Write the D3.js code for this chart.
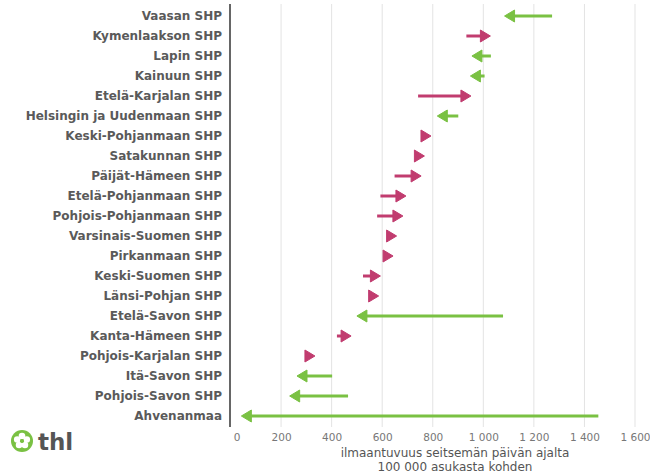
<!DOCTYPE html>
<html>
<head>
<meta charset="utf-8">
<script src="https://cdn.jsdelivr.net/npm/d3@7"></script>
<style>
  body { margin: 0; background: #fff; }
  svg { display: block; font-family: "DejaVu Sans", sans-serif; }
</style>
</head>
<body>
<svg width="650" height="474"></svg>
<script>
//regions, top to bottom
const regions = ["Vaasan SHP", "Kymenlaakson SHP", "Lapin SHP", "Kainuun SHP", "Etelä-Karjalan SHP",
  "Helsingin ja Uudenmaan SHP", "Keski-Pohjanmaan SHP", "Satakunnan SHP", "Päijät-Hämeen SHP",
  "Etelä-Pohjanmaan SHP", "Pohjois-Pohjanmaan SHP", "Varsinais-Suomen SHP", "Pirkanmaan SHP",
  "Keski-Suomen SHP", "Länsi-Pohjan SHP", "Etelä-Savon SHP", "Kanta-Hämeen SHP",
  "Pohjois-Karjalan SHP", "Itä-Savon SHP", "Pohjois-Savon SHP", "Ahvenanmaa"];

//previous week incidence
const prevWeek = [1272, 933, 1030, 1005, 742, 901, 765, 742, 649, 593, 580, 632, 618,
  524, 560, 1078, 421, 308, 402, 465, 1455];

//current week incidence (arrow tip)
const currWeek = [1084, 1028, 955, 949, 951, 818, 793, 767, 754, 694, 682, 657, 643,
  593, 586, 500, 477, 334, 263, 234, 43];

const xTicks = [0, 200, 400, 600, 800, 1000, 1200, 1400, 1600];

const up = "#c13c6f";
const down = "#7ac143";

const svg = d3.select("svg");

const xScale = d3.scaleLinear().domain([0, 1600]).range([230.5, 635]);
const yScale = d3.scalePoint().domain(regions).range([16, 416]);

//grid
svg.append("g")
  .selectAll("line")
  .data(xTicks.slice(1))
  .enter()
  .append("line")
  .attr("x1", d => xScale(d))
  .attr("x2", d => xScale(d))
  .attr("y1", 4)
  .attr("y2", 427)
  .attr("stroke", "#e3e3e3")
  .attr("stroke-width", 1);

//x axis labels
const fmt = d => d3.format(",")(d).replace(",", " ");
const xAxis = d3.axisBottom(xScale).tickValues(xTicks).tickFormat(fmt).tickSize(0).tickPadding(6);
const gx = svg.append("g")
  .attr("transform", "translate(0,428)")
  .call(xAxis);
gx.select(".domain").remove();
gx.selectAll("text")
  .attr("fill", "#777")
  .style("font-size", "10.5px")
  .style("font-family", "DejaVu Sans");
gx.selectAll(".tick").filter(d => d === 0).select("text").attr("dx", 6);

//y labels
svg.append("g")
  .selectAll("text")
  .data(regions)
  .enter()
  .append("text")
  .attr("x", 222)
  .attr("y", d => yScale(d))
  .attr("dy", "0.35em")
  .attr("text-anchor", "end")
  .attr("fill", "#5a5a5a")
  .style("font-weight", "bold")
  .style("font-size", "12px")
  .text(d => d);

//y axis line
svg.append("line")
  .attr("x1", 230).attr("x2", 230)
  .attr("y1", 4).attr("y2", 427)
  .attr("stroke", "#666")
  .attr("stroke-width", 2);

//arrows
const headLen = 10;
const headHalf = 6;
const arrows = svg.append("g");
regions.forEach((r, i) => {
  const x0 = xScale(prevWeek[i]);
  const x1 = xScale(currWeek[i]);
  const y = yScale(r);
  const dir = x1 >= x0 ? 1 : -1;
  const col = dir > 0 ? up : down;
  const base = x1 - dir * headLen;
  if ((base - x0) * dir > 0) {
    arrows.append("line")
      .attr("x1", x0).attr("x2", base + dir * 1)
      .attr("y1", y).attr("y2", y)
      .attr("stroke", col)
      .attr("stroke-width", 3);
  }
  arrows.append("path")
    .attr("d", `M${x1},${y}L${base},${y - headHalf}L${base},${y + headHalf}Z`)
    .attr("fill", col)
    .attr("stroke", col)
    .attr("stroke-width", 1)
    .attr("stroke-linejoin", "round");
});

//axis title
const title = svg.append("text")
  .attr("text-anchor", "middle")
  .attr("fill", "#555")
  .style("font-size", "12px");
title.append("tspan").attr("x", 455).attr("y", 457).text("ilmaantuvuus seitsemän päivän ajalta");
title.append("tspan").attr("x", 455).attr("y", 471).text("100 000 asukasta kohden");

//thl logo
const logo = svg.append("g").attr("transform", "translate(22,441)");
logo.append("circle").attr("r", 11).attr("fill", "#7ac143");
d3.range(5).forEach(k => {
  const a = (k * 72 - 90) * Math.PI / 180;
  logo.append("circle")
    .attr("cx", Math.cos(a) * 5)
    .attr("cy", Math.sin(a) * 5)
    .attr("r", 3.3)
    .attr("fill", "#fff");
});
logo.append("circle").attr("r", 2).attr("fill", "#7ac143");
svg.append("text")
  .attr("x", 38)
  .attr("y", 450)
  .attr("fill", "#555")
  .style("font-weight", "bold")
  .style("font-size", "23px")
  .style("font-family", "DejaVu Sans")
  .text("thl");
</script>
</body>
</html>
